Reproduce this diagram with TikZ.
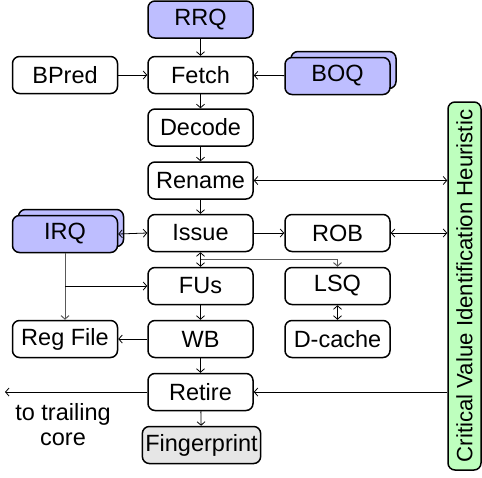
\documentclass[tikz,border=0pt]{standalone}
\usepackage{fontspec}
\setmainfont{Liberation Sans}
\usetikzlibrary{arrows.meta,calc}
\definecolor{qblue}{RGB}{190,190,255}
\definecolor{qgreen}{RGB}{190,255,190}
\definecolor{qgray}{RGB}{230,230,230}
\begin{document}
\begin{tikzpicture}[x=1pt,y=-1pt,
  box/.style={draw, line width=1.5pt, rounded corners=7pt, minimum width=105pt,
    minimum height=37pt, inner sep=1pt, font=\fontsize{23.5}{27}\selectfont},
  qbox/.style={box, fill=qblue},
  arr/.style={line width=0.8pt, -{Straight Barb[length=3.5pt,width=8pt]}},
  darr/.style={line width=0.8pt, {Straight Barb[length=3.5pt,width=8pt]}-{Straight Barb[length=3.5pt,width=8pt]}},
  garr/.style={arr, black!65, line width=1pt}]
\useasboundingbox (0,0) rectangle (482,477);
% main column
\node[qbox] (rrq) at (200.5,19.5) {RRQ};
\node[box] (fetch) at (200.5,75) {Fetch};
\node[box] (bpred) at (65,75) {BPred};
\node[qbox] (boqb) at (343.5,70) {\phantom{BOQ}};
\node[qbox] (boq) at (337.5,76) {BOQ};
\node[box] (decode) at (200.5,127.5) {Decode};
\node[box] (rename) at (200.5,180.5) {Rename};
\node[box] (issue) at (200.5,233) {Issue};
\node[qbox] (irqb) at (71,228) {\phantom{IRQ}};
\node[qbox] (irq) at (65,234) {IRQ};
\node[box] (rob) at (337.5,233) {ROB};
\node[box] (fus) at (200.5,286) {FUs};
\node[box] (lsq) at (337.5,286) {LSQ};
\node[box] (regfile) at (65,339) {Reg File};
\node[box] (wb) at (200.5,339) {WB};
\node[box] (dcache) at (337.5,339) {D-cache};
\node[box] (retire) at (200.5,392) {Retire};
\node[box, fill=qgray, minimum width=0pt, inner sep=3pt] (fp) at (201.5,445) {Fingerprint};
\node[box, fill=qgreen, rotate=90, minimum width=368pt, minimum height=33pt, inner sep=0pt,
  font=\fontsize{22.2}{26}\selectfont] (cvih) at (464.5,286)
  {Critical Value Identification Heuristic};
\node[align=center, font=\fontsize{23.5}{25}\selectfont, inner sep=0pt] (trail) at (63,425) {to trailing\\core};
% connectors
\draw[arr] (rrq) -- (fetch);
\draw[arr] (bpred) -- (fetch);
\draw[arr] (boq) -- (fetch);
\draw[arr] (fetch) -- (decode);
\draw[arr] (decode) -- (rename);
\draw[darr] (rename.east) -- (rename.east -| cvih.north);
\draw[arr] (rename) -- (issue);
\draw[darr] (irq.east) -- (issue.west);
\draw[arr] (issue) -- (rob);
\draw[darr] (rob.east) -- (rob.east -| cvih.north);
\draw[darr] (issue) -- (fus);
\coordinate (split) at ($(issue.south)!0.5!(fus.north)$);
\draw[garr] (split) -| (lsq.north);
\draw[garr] (irq.south) -- (regfile.north);
\coordinate (irqfu) at (irq.south |- fus.west);
\draw[arr] (irqfu) -- (fus.west);
\draw[darr] (lsq) -- (dcache);
\draw[arr] (fus) -- (wb);
\draw[arr] (wb) -- (regfile);
\draw[arr] (wb) -- (retire);
\draw[arr] (retire) -- (fp);
\coordinate (out) at (5,392);
\draw[arr] (retire.west) -- (out);
\draw[arr] (retire.east -| cvih.north) -- (retire.east);
\end{tikzpicture}
\end{document}
